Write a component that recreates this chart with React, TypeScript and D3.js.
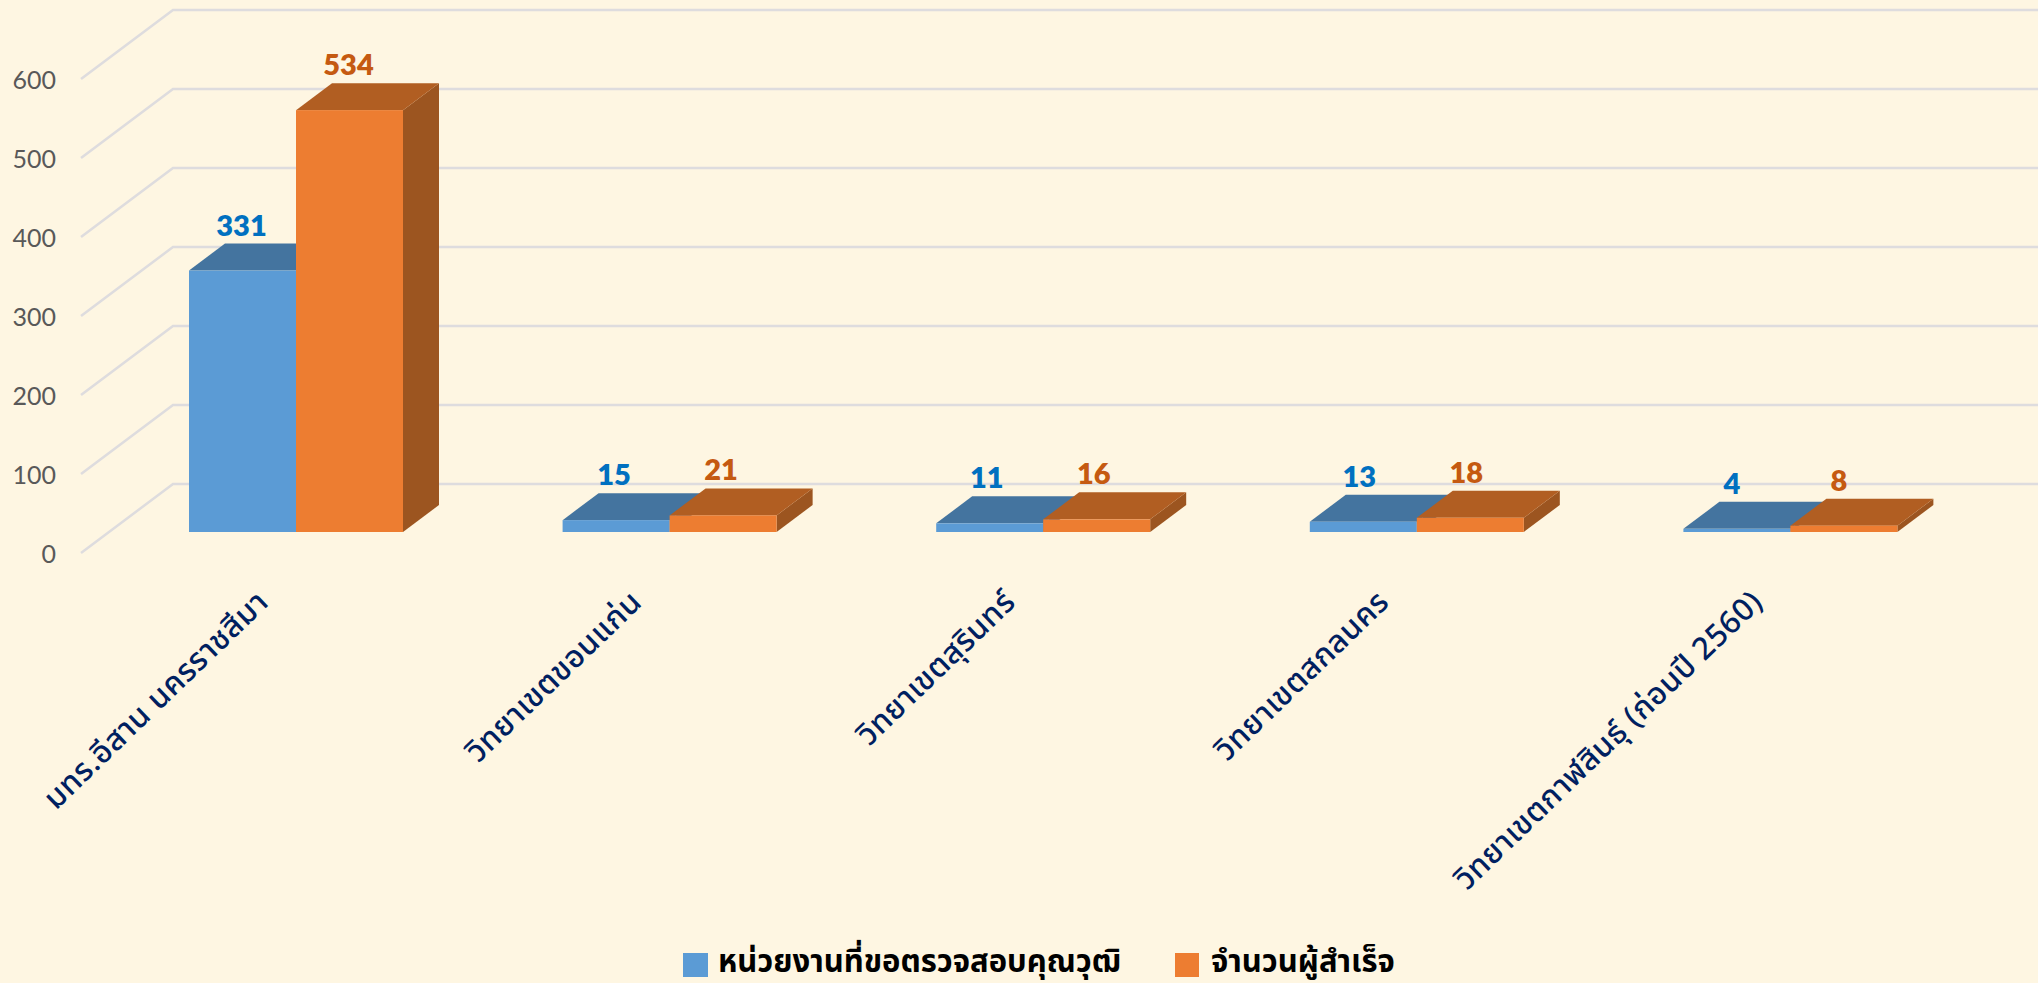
import React from "react";
import * as d3 from "d3";

const categories = [
  "มทร.อีสาน นครราชสีมา",
  "วิทยาเขตขอนแก่น",
  "วิทยาเขตสุรินทร์",
  "วิทยาเขตสกลนคร",
  "วิทยาเขตกาฬสินธุ์ (ก่อนปี 2560)",
];
const seriesNames = ["หน่วยงานที่ขอตรวจสอบคุณวุฒิ", "จำนวนผู้สำเร็จ"];
const requested = [331, 15, 11, 13, 4];
const graduates = [534, 21, 16, 18, 8];
const yTicks = [0, 100, 200, 300, 400, 500, 600];

const W = 2038, H = 983;
const BG = "#FEF6E2";
const frontFill = ["#5B9BD5", "#ED7D31"];
const topFill = ["#44749F", "#B15E22"];
const sideFill = ["#3E6A93", "#9C5520"];
const labelFill = ["#0070C0", "#C55A11"];

const xBand = d3.scaleBand<string>().domain(categories).range([109.2, 1977.2]).paddingInner(0.427).paddingOuter(0.2135);
const yBar = d3.scaleLinear().domain([0, 600]).range([532, 58]);
const yFloor = d3.scaleLinear().domain([0, 600]).range([553, 79]);
const wall = { frontX: 81, backX: 173, dy: 69 };
const barDepth = { dx: 36, dy: 27 };

const pts = (a: number[][]) => a.map((p) => p.join(",")).join(" ");
const thai = "'Noto Sans Thai','Noto Sans','Tahoma',sans-serif";
const latin = "Lato,'Open Sans',sans-serif";

function Bar({ x, w, v, s }: { x: number; w: number; v: number; s: number }) {
  const y0 = yBar(0), y1 = yBar(v);
  const { dx, dy } = barDepth;
  return (
    <g>
      <polygon points={pts([[x + w, y1], [x + w + dx, y1 - dy], [x + w + dx, y0 - dy], [x + w, y0]])} fill={sideFill[s]} />
      <polygon points={pts([[x, y1], [x + dx, y1 - dy], [x + w + dx, y1 - dy], [x + w, y1]])} fill={topFill[s]} />
      <rect x={x} y={y1} width={w} height={y0 - y1} fill={frontFill[s]} />
    </g>
  );
}

export default function App() {
  const bw = xBand.bandwidth() / 1;
  const half = 107;
  return (
    <svg width={W} height={H} style={{ position: "absolute", left: 0, top: 0, display: "block", background: BG }}>
      <rect width={W} height={H} fill={BG} />
      {yTicks.map((t) => {
        const y = yFloor(t);
        return (
          <polyline key={t} points={pts([[wall.frontX, y], [wall.backX, y - wall.dy], [W, y - wall.dy]])}
            fill="none" stroke="#DEDCDE" strokeWidth={2.5} />
        );
      })}
      {yTicks.map((t) => (
        <text key={t} x={56} y={yFloor(t) + 10} textAnchor="end" fontFamily={latin} fontSize={25} fill="#595959">{t}</text>
      ))}
      {categories.map((c, i) => {
        const x0 = xBand(c)!;
        const mid = x0 + bw / 2;
        return (
          <g key={c}>
            <Bar x={mid - half} w={half} v={requested[i]} s={0} />
            <Bar x={mid} w={half} v={graduates[i]} s={1} />
          </g>
        );
      })}
      {categories.map((c, i) => {
        const mid = xBand(c)! + bw / 2;
        return [requested[i], graduates[i]].map((v, s) => (
          <text key={s} x={mid + (s === 0 ? -half / 2 : half / 2) - 1 - i} y={yBar(v) - barDepth.dy - 8}
            textAnchor="middle" fontFamily={latin} fontWeight={800} fontSize={29} fill={labelFill[s]}>{v}</text>
        ));
      })}
      {categories.map((c) => {
        const mid = xBand(c)! + bw / 2;
        return (
          <text key={c} transform={`translate(${mid - 26},${604}) rotate(-44)`} textAnchor="end"
            fontFamily={thai} fontWeight={500} fontSize={31} letterSpacing={0.5} fill="#002060">{c}</text>
        );
      })}
      <rect x={683} y={953} width={25} height={24} fill={frontFill[0]} />
      <text x={718} y={972} fontFamily={thai} fontWeight={700} fontSize={31} fill="#000">{seriesNames[0]}</text>
      <rect x={1175} y={953} width={24} height={24} fill={frontFill[1]} />
      <text x={1211} y={972} fontFamily={thai} fontWeight={700} fontSize={31} fill="#000">{seriesNames[1]}</text>
    </svg>
  );
}
